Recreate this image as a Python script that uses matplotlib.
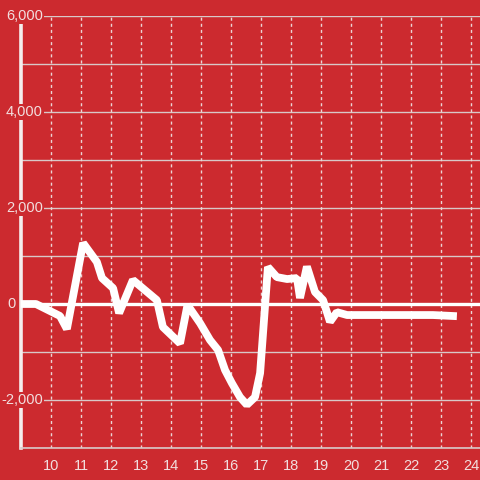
import matplotlib
matplotlib.use("Agg")
import matplotlib.pyplot as plt

hours = [9.0, 9.5, 10.3, 10.53, 11.07, 11.53, 11.7, 12.07, 12.27, 12.73, 13.13, 13.53, 13.73,
         14.3, 14.55, 14.97, 15.3, 15.57, 15.8, 16.03, 16.3, 16.53, 16.8, 16.97, 17.23,
         17.53, 17.87, 18.2, 18.3, 18.53, 18.8, 19.07, 19.3, 19.53, 19.87, 22.73, 23.4]
values = [0, 0, -250, -520, 1270, 875, 540, 330, -190, 500, 290, 80, -480,
          -820, -20, -400, -750, -960, -1375, -1650, -1940, -2100, -1940, -1440, 770,
          560, 520, 540, 125, 780, 250, 80, -370, -170, -230, -230, -250]
x_ticks = list(range(10, 25))
y_grid = list(range(-3000, 6001, 1000))
y_labels = [-2000, 0, 2000, 4000, 6000]
y_label_text = ["-2,000", "0", "2,000", "4,000", "6,000"]

BG = "#CC2A2F"
TXT = "#F2DEDE"
plt.rcParams['font.family'] = ['Liberation Sans', 'DejaVu Sans']

fig = plt.figure(figsize=(4.8, 4.8), dpi=100, facecolor=BG)
ax = fig.add_axes([21/480, 32/480, 459/480, 432/480])
ax.set_facecolor(BG)
ax.set_xlim(9, 24.3)
ax.set_ylim(-3000, 6000)

for y in y_grid:
    if y != 0:
        ax.axhline(y, color="#D8C8C8", lw=1.0, zorder=1)
for x in x_ticks:
    ax.axvline(x, color="#EBD5D5", lw=1.0, ls=(0, (2.2, 2.2)), zorder=1)
ax.axhline(0, color="white", lw=2.4, zorder=2)

ax.plot(hours, values, color="white", lw=5.6, solid_joinstyle="bevel", zorder=4)

ax.set_xticks(x_ticks)
ax.set_xticklabels([str(v) for v in x_ticks])
ax.set_yticks([])
ax.tick_params(axis='x', length=0, pad=8, labelsize=10.5, labelcolor=TXT)
for s in ["top", "right"]:
    ax.spines[s].set_visible(False)
ax.spines["left"].set_color("#F5EEEE")
ax.spines["left"].set_linewidth(2.6)
ax.spines["left"].set_bounds(-3000, 5830)
ax.spines["bottom"].set_color("#D8C8C8")
ax.spines["bottom"].set_linewidth(1.2)

tr = ax.get_yaxis_transform()
for y, t in zip(y_labels, y_label_text):
    xr = 22/459 if t != "0" else -5/459
    ax.text(xr, y, t, transform=tr, ha="right", va="center", fontsize=10.5, color=TXT,
            zorder=6, clip_on=False,
            bbox=dict(facecolor=BG, edgecolor="none", pad=1.0))

fig.savefig("out.png", dpi=100, facecolor=BG)
